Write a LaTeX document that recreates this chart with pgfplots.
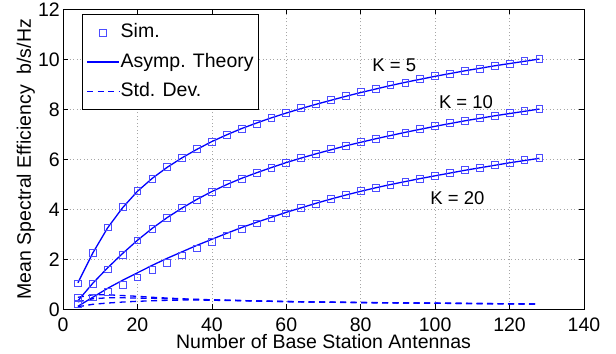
\documentclass[border=0pt]{standalone}
\usepackage{fontspec}
\setmainfont{Liberation Sans}
\usepackage{pgfplots}
\usepackage{pgfplotstable}
\pgfplotsset{compat=1.18}

\definecolor{mblue}{rgb}{0,0,1}
\definecolor{sqblue}{rgb}{0.3,0.3,1}

\pgfplotstableread{
M s5 t5 s10 t10 s20 t20 d5 d10 d20
4 1.04 1.06 0.48 0.34 0.20 0.12 0.48 0.30 0.10
8 2.27 2.25 1.01 1.04 0.48 0.48 0.58 0.42 0.20
12 3.28 3.26 1.60 1.66 0.71 0.84 0.58 0.46 0.25
16 4.08 4.06 2.17 2.23 0.97 1.16 0.55 0.46 0.29
20 4.75 4.72 2.76 2.76 1.28 1.46 0.52 0.45 0.32
24 5.23 5.24 3.23 3.24 1.57 1.76 0.48 0.44 0.34
28 5.68 5.68 3.65 3.67 1.87 2.04 0.45 0.42 0.36
32 6.06 6.06 4.05 4.05 2.16 2.30 0.42 0.41 0.37
36 6.40 6.40 4.37 4.40 2.44 2.56 0.40 0.39 0.37
40 6.70 6.71 4.69 4.71 2.70 2.80 0.38 0.38 0.36
44 6.98 6.98 5.00 4.99 2.96 3.04 0.365 0.365 0.355
48 7.22 7.23 5.23 5.24 3.21 3.27 0.35 0.35 0.345
52 7.43 7.45 5.45 5.46 3.44 3.48 0.335 0.335 0.33
56 7.65 7.66 5.64 5.67 3.64 3.68 0.325 0.32 0.318
60 7.84 7.85 5.87 5.87 3.84 3.88 0.312 0.31 0.308
64 8.04 8.03 6.05 6.05 4.04 4.06 0.302 0.30 0.298
68 8.20 8.20 6.22 6.22 4.21 4.24 0.293 0.29 0.288
72 8.37 8.36 6.40 6.38 4.40 4.41 0.287 0.285 0.282
76 8.53 8.52 6.54 6.54 4.56 4.57 0.281 0.278 0.275
80 8.68 8.67 6.69 6.68 4.72 4.72 0.273 0.27 0.268
84 8.81 8.81 6.82 6.82 4.84 4.86 0.267 0.265 0.262
88 8.96 8.95 6.96 6.95 4.97 4.99 0.262 0.26 0.257
92 9.07 9.08 7.07 7.08 5.10 5.11 0.257 0.255 0.252
96 9.20 9.20 7.20 7.20 5.21 5.23 0.252 0.25 0.247
100 9.33 9.32 7.33 7.32 5.34 5.34 0.247 0.245 0.242
104 9.43 9.43 7.44 7.43 5.45 5.45 0.242 0.24 0.237
108 9.53 9.54 7.54 7.54 5.57 5.56 0.237 0.235 0.232
112 9.62 9.64 7.65 7.64 5.66 5.66 0.232 0.23 0.227
116 9.73 9.74 7.74 7.74 5.77 5.76 0.227 0.225 0.222
120 9.82 9.83 7.84 7.83 5.86 5.86 0.222 0.22 0.217
124 9.93 9.92 7.93 7.92 5.96 5.95 0.217 0.215 0.212
128 10.02 10.01 8.01 8.01 6.04 6.04 0.212 0.21 0.207
}\data

\begin{document}
\begin{tikzpicture}
\useasboundingbox (-63bp,-44.7bp) rectangle (553bp,309.3bp);
\begin{axis}[
  at={(0,0)}, anchor=south west,
  scale only axis, width=521bp, height=300bp,
  xmin=0, xmax=140, ymin=0, ymax=12,
  xtick={0,20,...,140}, ytick={0,2,...,12},
  xtick pos=both, ytick pos=both,
  tick align=inside,
  major tick length=5bp,
  grid=major,
  grid style={gray!70, line width=0.6bp, dash pattern=on 1bp off 2.5bp},
  axis line style={black, line width=0.8bp},
  tick style={black, line width=0.6bp},
  font=\fontsize{19.5bp}{22bp}\selectfont,
  /pgf/number format/assume math mode=true,
  xticklabel style={anchor=base, yshift=-22.4bp, text depth=0pt, inner sep=0pt},
  yticklabel style={anchor=east, inner sep=0pt, xshift=-3bp},
  every axis x label/.style={at={(axis description cs:0.5,0)}, anchor=base, yshift=-39.5bp, text height=12bp, inner sep=0pt},
  every axis y label/.style={at={(axis description cs:0,0.5)}, xshift=-32bp, rotate=90, anchor=base},
  xlabel={Number of Base Station Antennas},
  ylabel={Mean Spectral Efficiency\ \ b/s/Hz},
  legend style={at={(axis description cs:0.3762,0.984)}, anchor=north east,
    draw=black, line width=0.8bp, fill=white,
    inner xsep=4bp, inner ysep=8bp, row sep=9.5bp,
    font=\fontsize{19.5bp}{22bp}\selectfont,
    nodes={inner sep=1bp, text height=14bp, text depth=4bp}},
  legend cell align=left,
  mylegend/.style={legend image code/.code={\draw[mark repeat=2,mark phase=2,##1] plot coordinates {(0bp,0bp) (16bp,0bp) (32bp,0bp)};}},
  sq/.style={only marks, mark=square, mark size=3.4bp, mark options={draw=sqblue, line width=0.8bp, fill=none, solid}, mylegend},
  th/.style={mblue, line width=1.3bp, no marks, mylegend},
  sd/.style={mblue, line width=1.3bp, no marks, dash pattern=on 6bp off 4.5bp, mylegend},
]
\addplot[sq] table[x=M, y=s5] {\data};
\addlegendentry{Sim.}
\addplot[th] table[x=M, y=t5] {\data};
\addlegendentry{Asymp. Theory}
\addplot[sd] table[x=M, y=d5] {\data};
\addlegendentry{Std. Dev.}
\addplot[sq, forget plot] table[x=M, y=s10] {\data};
\addplot[sq, forget plot] table[x=M, y=s20] {\data};
\addplot[th, forget plot] table[x=M, y=t10] {\data};
\addplot[th, forget plot] table[x=M, y=t20] {\data};
\addplot[sd, forget plot] table[x=M, y=d10] {\data};
\addplot[sd, forget plot] table[x=M, y=d20] {\data};
\node[font=\fontsize{18.5bp}{21bp}\selectfont] at (axis cs:89,9.77) {K = 5};
\node[font=\fontsize{18.5bp}{21bp}\selectfont] at (axis cs:108.3,8.29) {K = 10};
\node[font=\fontsize{18.5bp}{21bp}\selectfont] at (axis cs:106,4.43) {K = 20};
\end{axis}
\end{tikzpicture}
\end{document}
